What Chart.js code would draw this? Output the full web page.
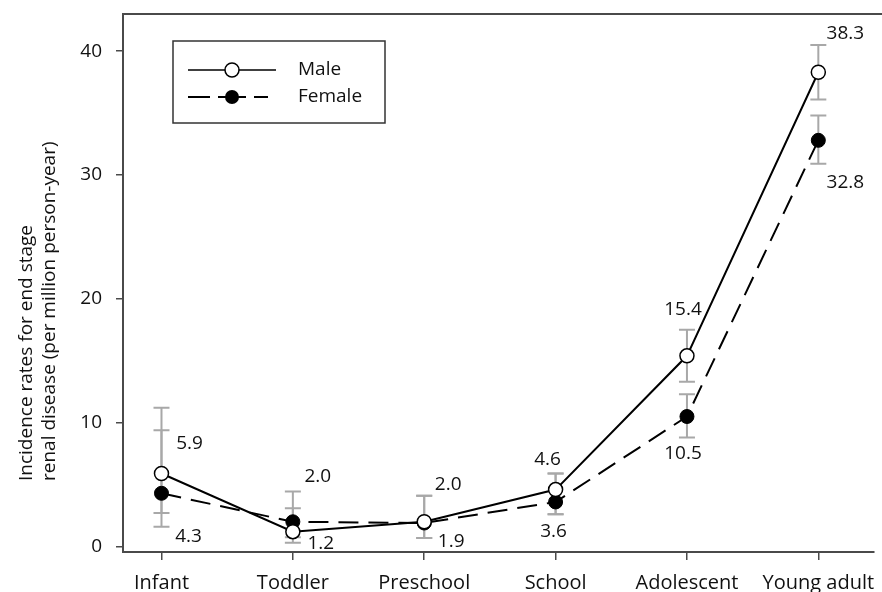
<!DOCTYPE html>
<html>
<head>
<meta charset="utf-8">
<style>
  html, body { margin: 0; padding: 0; background: #fff; }
  #wrap { width: 882px; height: 592px; }
</style>
<script src="https://cdn.jsdelivr.net/npm/chart.js@4/dist/chart.umd.min.js"></script>
</head>
<body>
<div id="wrap"><canvas id="c" width="882" height="592"></canvas></div>
<script>
// Age groups along the x axis
const categories = ['Infant', 'Toddler', 'Preschool', 'School', 'Adolescent', 'Young adult'];

// Incidence of end stage renal disease (per million person-year)
const maleRates   = [5.9, 1.2, 2.0, 4.6, 15.4, 38.3];
const femaleRates = [4.3, 2.0, 1.9, 3.6, 10.5, 32.8];

// 95% confidence limits
const maleLower   = [2.7, 0.3, 0.7, 2.6, 13.3, 36.1];
const maleUpper   = [9.4, 3.1, 4.1, 5.9, 17.5, 40.5];
const femaleLower = [1.6, 0.75, 0.7, 2.6, 8.8, 30.9];
const femaleUpper = [11.2, 4.45, 4.1, 5.9, 12.3, 34.8];

const yTicks = [0, 10, 20, 30, 40];

// Where each value label sits relative to its marker (pixels)
const maleLabelOffset   = [[28, -30], [28, 12], [24, -37], [-8, -30], [-4, -46], [27, -39]];
const femaleLabelOffset = [[27, 43], [25, -45], [27, 19], [-2, 30], [-4, 37], [27, 42]];

const FONT = "'Open Sans', 'DejaVu Sans', sans-serif";
const FONT_SIZE = 19;
const AXIS = '#4a4a4a';
const ERR = '#a8a8a8';

const toPoints = arr => arr.map((v, i) => ({ x: i, y: v }));

const errorBars = {
  id: 'errorBars',
  beforeDatasetsDraw(chart) {
    const { ctx, scales: { x, y } } = chart;
    ctx.save();
    ctx.strokeStyle = ERR;
    ctx.lineWidth = 2;
    const draw = (lo, hi) => {
      lo.forEach((l, i) => {
        const px = x.getPixelForValue(i);
        const y1 = y.getPixelForValue(l), y2 = y.getPixelForValue(hi[i]);
        ctx.beginPath();
        ctx.moveTo(px, y1); ctx.lineTo(px, y2);
        ctx.moveTo(px - 8, y1); ctx.lineTo(px + 8, y1);
        ctx.moveTo(px - 8, y2); ctx.lineTo(px + 8, y2);
        ctx.stroke();
      });
    };
    draw(maleLower, maleUpper);
    draw(femaleLower, femaleUpper);
    ctx.restore();
  }
};

const decorations = {
  id: 'decorations',
  afterDraw(chart) {
    const { ctx, chartArea: a, scales: { x, y } } = chart;
    ctx.save();

    // top frame line
    ctx.strokeStyle = AXIS;
    ctx.lineWidth = 2;
    ctx.beginPath();
    ctx.moveTo(a.left, a.top); ctx.lineTo(chart.width, a.top);
    ctx.stroke();

    // value labels
    ctx.fillStyle = '#111';
    ctx.font = FONT_SIZE + 'px ' + FONT;
    ctx.textAlign = 'center';
    ctx.textBaseline = 'middle';
    const label = (vals, offs) => vals.forEach((v, i) => {
      const px = x.getPixelForValue(i), py = y.getPixelForValue(v);
      ctx.fillText(v.toFixed(1), px + offs[i][0], py + offs[i][1]);
    });
    label(maleRates, maleLabelOffset);
    label(femaleRates, femaleLabelOffset);

    // y axis title (two lines, rotated, starting from the same end)
    ctx.save();
    ctx.translate(27, 481);
    ctx.rotate(-Math.PI / 2);
    ctx.textAlign = 'left';
    ctx.fillText('Incidence rates for end stage', 0, 0);
    ctx.fillText('renal disease (per million person-year)', 0, 23);
    ctx.restore();

    // legend
    const lx = 173, ly = 41, lw = 212, lh = 82;
    ctx.strokeStyle = '#333';
    ctx.lineWidth = 1.5;
    ctx.strokeRect(lx, ly, lw, lh);

    ctx.strokeStyle = '#000';
    ctx.lineWidth = 1.5;
    ctx.beginPath();
    ctx.moveTo(188, 70); ctx.lineTo(276, 70);
    ctx.stroke();
    ctx.beginPath();
    ctx.arc(232, 70, 7, 0, Math.PI * 2);
    ctx.fillStyle = '#fff'; ctx.fill();
    ctx.lineWidth = 1.5; ctx.stroke();

    ctx.lineWidth = 2;
    ctx.beginPath();
    ctx.moveTo(188, 97); ctx.lineTo(210, 97);
    ctx.moveTo(218, 97); ctx.lineTo(246, 97);
    ctx.moveTo(254, 97); ctx.lineTo(268, 97);
    ctx.stroke();
    ctx.beginPath();
    ctx.arc(232, 97, 7, 0, Math.PI * 2);
    ctx.fillStyle = '#000'; ctx.fill();

    ctx.fillStyle = '#111';
    ctx.textAlign = 'left';
    ctx.fillText('Male', 298, 70);
    ctx.fillText('Female', 298, 97);

    ctx.restore();
  }
};

new Chart(document.getElementById('c'), {
  type: 'line',
  data: {
    datasets: [
      {
        label: 'Male',
        data: toPoints(maleRates),
        borderColor: '#000',
        borderWidth: 2,
        pointRadius: 7,
        pointBackgroundColor: '#fff',
        pointBorderColor: '#000',
        pointBorderWidth: 1.5,
        tension: 0,
        order: 1
      },
      {
        label: 'Female',
        data: toPoints(femaleRates),
        borderColor: '#000',
        borderWidth: 2,
        borderDash: [20, 10],
        pointRadius: 7,
        pointBackgroundColor: '#000',
        pointBorderColor: '#000',
        pointBorderWidth: 1,
        tension: 0,
        order: 2
      }
    ]
  },
  options: {
    responsive: false,
    animation: false,
    layout: { padding: { top: 14, right: 0, left: 0, bottom: 0 } },
    plugins: {
      legend: { display: false },
      tooltip: { enabled: false }
    },
    scales: {
      x: {
        type: 'linear',
        min: -0.293,
        max: 5.42,
        afterBuildTicks: s => { s.ticks = categories.map((_, i) => ({ value: i })); },
        afterFit: s => { s.height = 40; s.paddingLeft = 0; s.paddingRight = 0; },
        border: { display: true, color: AXIS, width: 2 },
        grid: { drawOnChartArea: false, drawTicks: true, tickLength: 8, color: AXIS, lineWidth: 1.5 },
        ticks: {
          autoSkip: false,
          maxRotation: 0,
          padding: 11,
          color: '#111',
          font: { family: FONT, size: 20 },
          callback: v => categories[v] ?? ''
        }
      },
      y: {
        type: 'linear',
        min: -0.44,
        max: 43.0,
        afterBuildTicks: s => { s.ticks = yTicks.map(v => ({ value: v })); },
        afterFit: s => { s.width = 123; s.paddingTop = 0; s.paddingBottom = 0; },
        border: { display: true, color: AXIS, width: 2 },
        grid: { drawOnChartArea: false, drawTicks: true, tickLength: 7, color: AXIS, lineWidth: 1.5 },
        ticks: {
          padding: 14,
          color: '#111',
          font: { family: FONT, size: FONT_SIZE }
        }
      }
    }
  },
  plugins: [errorBars, decorations]
});
</script>
</body>
</html>
